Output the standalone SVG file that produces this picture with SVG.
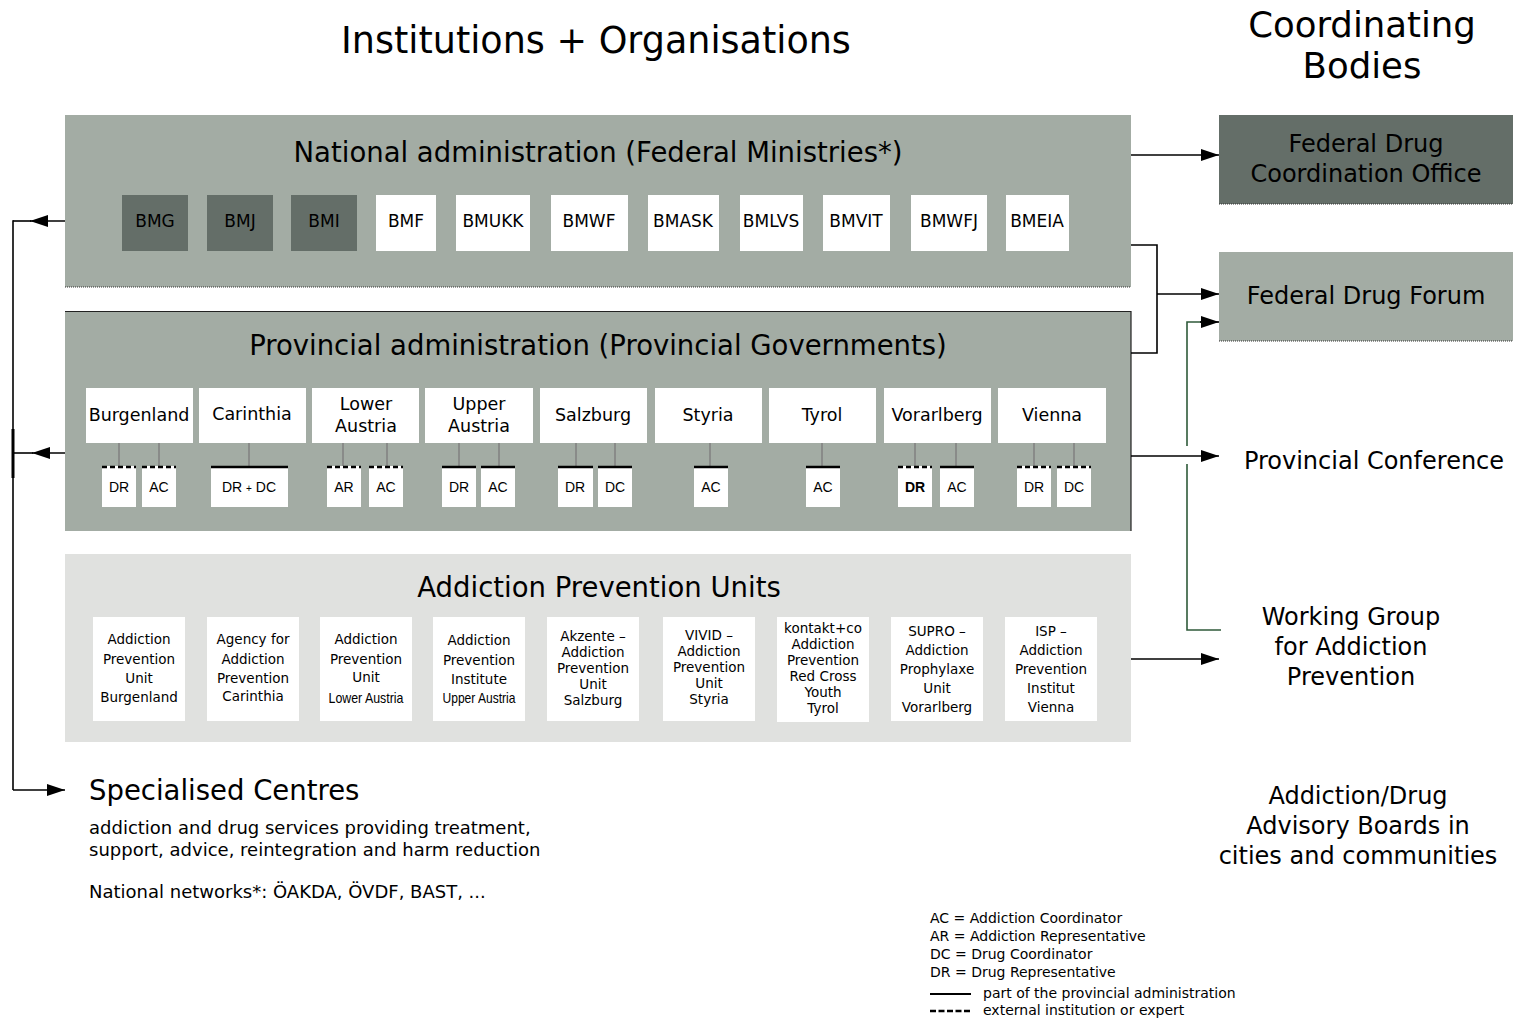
<svg xmlns="http://www.w3.org/2000/svg" width="1513" height="1020" viewBox="0 0 1513 1020">
<style>
.t{font-family:"DejaVu Sans","Liberation Sans",sans-serif;fill:#000}
.nw{font-family:"Liberation Sans Narrow","Liberation Sans",sans-serif;fill:#000}
.c{text-anchor:middle}
.h1{font-size:36.5px}
.h0{font-size:35.5px}
.h2{font-size:27.5px}
.h3{font-size:24px}
.min{font-size:17px}
.prov{font-size:17.5px}
.sm{font-size:14px}
.apu{font-size:13.5px}
.body{font-size:18px}
.dark{fill:#646e68}
.mid{fill:#a3aca4}
.light{fill:#e0e1df}
.wb{fill:#fff}
.ln{stroke:#000;stroke-width:1.6;fill:none}
.gl{stroke:#2f5a3a;stroke-width:1.6;fill:none}
.gray{stroke:#808080;stroke-width:1.5}
.solid{stroke:#000;stroke-width:2.5}
.dash{stroke:#000;stroke-width:2.5;stroke-dasharray:5 3}
.dot{stroke:#333;stroke-width:1;stroke-dasharray:1 1}
</style>
<defs>
<marker id="ah" markerUnits="userSpaceOnUse" markerWidth="18" markerHeight="12" viewBox="0 0 18 12" refX="18" refY="6" orient="auto"><path d="M0,0 L18,6 L0,12 z" fill="#000"/></marker>
</defs>

<text class="t c h1" x="596" y="53">Institutions + Organisations</text>
<text class="t c h0" x="1362" y="37"><tspan x="1362" y="37">Coordinating</tspan><tspan x="1362" y="78">Bodies</tspan></text>

<g id="national">
<rect class="mid" x="65" y="115" width="1066" height="172"/>
<line class="dot" x1="65" y1="287" x2="1131" y2="287"/>
<text class="t c h2" x="598" y="162">National administration (Federal Ministries*)</text>
<g id="ministries">
<rect class="dark" x="122" y="195" width="66" height="56"/><text class="t c min" x="155" y="227">BMG</text>
<rect class="dark" x="207" y="195" width="66" height="56"/><text class="t c min" x="240" y="227">BMJ</text>
<rect class="dark" x="291" y="195" width="66" height="56"/><text class="t c min" x="324" y="227">BMI</text>
<rect class="wb" x="376" y="195" width="60" height="56"/><text class="t c min" x="406" y="227">BMF</text>
<rect class="wb" x="456" y="195" width="74" height="56"/><text class="t c min" x="493" y="227">BMUKK</text>
<rect class="wb" x="551" y="195" width="77" height="56"/><text class="t c min" x="589" y="227">BMWF</text>
<rect class="wb" x="648" y="195" width="71" height="56"/><text class="t c min" x="683" y="227">BMASK</text>
<rect class="wb" x="740" y="195" width="63" height="56"/><text class="t c min" x="771" y="227">BMLVS</text>
<rect class="wb" x="823" y="195" width="67" height="56"/><text class="t c min" x="856" y="227">BMVIT</text>
<rect class="wb" x="911" y="195" width="76" height="56"/><text class="t c min" x="949" y="227">BMWFJ</text>
<rect class="wb" x="1006" y="195" width="63" height="56"/><text class="t c min" x="1037" y="227">BMEIA</text>
</g>
</g>

<g id="provincial">
<rect class="mid" x="65" y="311" width="1066" height="220"/>
<path d="M65,311.5 H1131 V531" stroke="#222" stroke-width="1.2" fill="none"/>
<text class="t c h2" x="598" y="355">Provincial administration (Provincial Governments)</text>
<g id="provinces">
<rect class="wb" x="86" y="388" width="107" height="55"/><text class="t c prov" x="139" y="421">Burgenland</text>
<rect class="wb" x="199" y="388" width="107" height="55"/><text class="t c prov" x="252" y="420">Carinthia</text>
<rect class="wb" x="312" y="388" width="107" height="55"/><text class="t c prov" x="366" y="410">Lower</text><text class="t c prov" x="366" y="432">Austria</text>
<rect class="wb" x="425" y="388" width="108" height="55"/><text class="t c prov" x="479" y="410">Upper</text><text class="t c prov" x="479" y="432">Austria</text>
<rect class="wb" x="540" y="388" width="107" height="55"/><text class="t c prov" x="593" y="421">Salzburg</text>
<rect class="wb" x="655" y="388" width="107" height="55"/><text class="t c prov" x="708" y="421">Styria</text>
<rect class="wb" x="769" y="388" width="107" height="55"/><text class="t c prov" x="822" y="421">Tyrol</text>
<rect class="wb" x="884" y="388" width="107" height="55"/><text class="t c prov" x="937" y="421">Vorarlberg</text>
<rect class="wb" x="998" y="388" width="108" height="55"/><text class="t c prov" x="1052" y="421">Vienna</text>
</g>
<g id="representatives">
<g class="gray">
<line x1="119" y1="443" x2="119" y2="466"/><line x1="159" y1="443" x2="159" y2="466"/>
<line x1="249" y1="443" x2="249" y2="466"/>
<line x1="343" y1="443" x2="343" y2="466"/><line x1="387" y1="443" x2="387" y2="466"/>
<line x1="459" y1="443" x2="459" y2="466"/><line x1="499" y1="443" x2="499" y2="466"/>
<line x1="576" y1="443" x2="576" y2="466"/><line x1="615" y1="443" x2="615" y2="466"/>
<line x1="710" y1="443" x2="710" y2="466"/>
<line x1="822" y1="443" x2="822" y2="466"/>
<line x1="915" y1="443" x2="915" y2="466"/><line x1="956" y1="443" x2="956" y2="466"/>
<line x1="1034" y1="443" x2="1034" y2="466"/><line x1="1074" y1="443" x2="1074" y2="466"/>
</g>
<rect class="wb" x="102" y="466" width="34" height="41"/><line class="dash" x1="102" y1="467" x2="136" y2="467"/><text class="nw c sm" x="119" y="492">DR</text>
<rect class="wb" x="142" y="466" width="34" height="41"/><line class="dash" x1="142" y1="467" x2="176" y2="467"/><text class="nw c sm" x="159" y="492">AC</text>
<rect class="wb" x="211" y="466" width="77" height="41"/><line class="solid" x1="211" y1="467" x2="288" y2="467"/><text class="nw c sm" x="249" y="492">DR <tspan font-size="10">+</tspan> DC</text>
<rect class="wb" x="327" y="466" width="34" height="41"/><line class="dash" x1="327" y1="467" x2="361" y2="467"/><text class="nw c sm" x="344" y="492">AR</text>
<rect class="wb" x="369" y="466" width="34" height="41"/><line class="dash" x1="369" y1="467" x2="403" y2="467"/><text class="nw c sm" x="386" y="492">AC</text>
<rect class="wb" x="442" y="466" width="34" height="41"/><line class="solid" x1="442" y1="467" x2="476" y2="467"/><text class="nw c sm" x="459" y="492">DR</text>
<rect class="wb" x="481" y="466" width="34" height="41"/><line class="solid" x1="481" y1="467" x2="515" y2="467"/><text class="nw c sm" x="498" y="492">AC</text>
<rect class="wb" x="558" y="466" width="35" height="41"/><line class="solid" x1="558" y1="467" x2="593" y2="467"/><text class="nw c sm" x="575" y="492">DR</text>
<rect class="wb" x="598" y="466" width="34" height="41"/><line class="solid" x1="598" y1="467" x2="632" y2="467"/><text class="nw c sm" x="615" y="492">DC</text>
<rect class="wb" x="694" y="466" width="34" height="41"/><line class="solid" x1="694" y1="467" x2="728" y2="467"/><text class="nw c sm" x="711" y="492">AC</text>
<rect class="wb" x="806" y="466" width="34" height="41"/><line class="solid" x1="806" y1="467" x2="840" y2="467"/><text class="nw c sm" x="823" y="492">AC</text>
<rect class="wb" x="898" y="466" width="34" height="41"/><line class="dash" x1="898" y1="467" x2="932" y2="467"/><text class="nw c sm" x="915" y="492" font-weight="bold">DR</text>
<rect class="wb" x="940" y="466" width="34" height="41"/><line class="solid" x1="940" y1="467" x2="974" y2="467"/><text class="nw c sm" x="957" y="492">AC</text>
<rect class="wb" x="1017" y="466" width="34" height="41"/><line class="dash" x1="1017" y1="467" x2="1051" y2="467"/><text class="nw c sm" x="1034" y="492">DR</text>
<rect class="wb" x="1057" y="466" width="34" height="41"/><line class="dash" x1="1057" y1="467" x2="1091" y2="467"/><text class="nw c sm" x="1074" y="492">DC</text>
</g>
</g>

<g id="apu">
<rect class="light" x="65" y="554" width="1066" height="188"/>
<text class="t c h2" x="599" y="597">Addiction Prevention Units</text>
<g id="apu-boxes">
<rect class="wb" x="93" y="617" width="92" height="104"/>
<text class="t c apu" x="139"><tspan x="139" y="644">Addiction</tspan><tspan x="139" y="664">Prevention</tspan><tspan x="139" y="683">Unit</tspan><tspan x="139" y="702">Burgenland</tspan></text>
<rect class="wb" x="207" y="617" width="92" height="104"/>
<text class="t c apu" x="253"><tspan x="253" y="644">Agency for</tspan><tspan x="253" y="664">Addiction</tspan><tspan x="253" y="683">Prevention</tspan><tspan x="253" y="701">Carinthia</tspan></text>
<rect class="wb" x="320" y="617" width="92" height="104"/>
<text class="t c apu" x="366"><tspan x="366" y="644">Addiction</tspan><tspan x="366" y="664">Prevention</tspan><tspan x="366" y="682">Unit</tspan></text>
<text class="nw c" font-size="14.5" x="366" y="703" textLength="75" lengthAdjust="spacingAndGlyphs">Lower Austria</text>
<rect class="wb" x="433" y="617" width="92" height="104"/>
<text class="t c apu" x="479"><tspan x="479" y="645">Addiction</tspan><tspan x="479" y="665">Prevention</tspan><tspan x="479" y="684">Institute</tspan></text>
<text class="nw c" font-size="14.5" x="479" y="703" textLength="73" lengthAdjust="spacingAndGlyphs">Upper Austria</text>
<rect class="wb" x="547" y="617" width="92" height="104"/>
<text class="t c apu" x="593"><tspan x="593" y="641">Akzente –</tspan><tspan x="593" y="657">Addiction</tspan><tspan x="593" y="673">Prevention</tspan><tspan x="593" y="689">Unit</tspan><tspan x="593" y="705">Salzburg</tspan></text>
<rect class="wb" x="663" y="617" width="92" height="104"/>
<text class="t c apu" x="709"><tspan x="709" y="640">VIVID –</tspan><tspan x="709" y="656">Addiction</tspan><tspan x="709" y="672">Prevention</tspan><tspan x="709" y="688">Unit</tspan><tspan x="709" y="704">Styria</tspan></text>
<rect class="wb" x="777" y="617" width="92" height="105"/>
<text class="t c apu" x="823"><tspan x="823" y="633">kontakt+co</tspan><tspan x="823" y="649">Addiction</tspan><tspan x="823" y="665">Prevention</tspan><tspan x="823" y="681">Red Cross</tspan><tspan x="823" y="697">Youth</tspan><tspan x="823" y="713">Tyrol</tspan></text>
<rect class="wb" x="891" y="617" width="92" height="104"/>
<text class="t c apu" x="937"><tspan x="937" y="636">SUPRO –</tspan><tspan x="937" y="655">Addiction</tspan><tspan x="937" y="674">Prophylaxe</tspan><tspan x="937" y="693">Unit</tspan><tspan x="937" y="712">Vorarlberg</tspan></text>
<rect class="wb" x="1005" y="617" width="92" height="104"/>
<text class="t c apu" x="1051"><tspan x="1051" y="636">ISP –</tspan><tspan x="1051" y="655">Addiction</tspan><tspan x="1051" y="674">Prevention</tspan><tspan x="1051" y="693">Institut</tspan><tspan x="1051" y="712">Vienna</tspan></text>
</g>
</g>

<g id="specialised">
<text class="t h2" x="89" y="800">Specialised Centres</text>
<text class="t body" x="89" y="834">addiction and drug services providing treatment,</text>
<text class="t body" x="89" y="856">support, advice, reintegration and harm reduction</text>
<text class="t body" x="89" y="898">National networks*: ÖAKDA, ÖVDF, BAST, ...</text>
</g>

<g id="fdco">
<rect class="dark" x="1219" y="115" width="294" height="89"/>
<line class="dot" x1="1219" y1="204" x2="1513" y2="204"/>
<text class="t c h3" x="1366" y="152">Federal Drug</text>
<text class="t c h3" x="1366" y="182">Coordination Office</text>
</g>
<g id="fdf">
<rect class="mid" x="1219" y="252" width="294" height="89"/>
<line class="dot" x1="1219" y1="341" x2="1513" y2="341"/>
<text class="t c h3" x="1366" y="304">Federal Drug Forum</text>
</g>
<g id="provconf"><text class="t c h3" x="1374" y="469">Provincial Conference</text></g>
<g id="wgap">
<text class="t c h3" x="1351" y="625">Working Group</text>
<text class="t c h3" x="1351" y="655">for Addiction</text>
<text class="t c h3" x="1351" y="685">Prevention</text>
</g>
<g id="advisory">
<text class="t c h3" x="1358" y="804">Addiction/Drug</text>
<text class="t c h3" x="1358" y="834">Advisory Boards in</text>
<text class="t c h3" x="1358" y="864">cities and communities</text>
</g>

<g id="connectors">
<line class="ln" x1="65" y1="221" x2="30" y2="221" marker-end="url(#ah)"/>
<line class="ln" x1="31" y1="221" x2="13" y2="221"/>
<line class="ln" x1="65" y1="453" x2="32" y2="453" marker-end="url(#ah)"/>
<line class="ln" x1="33" y1="453" x2="13" y2="453"/>
<line class="ln" x1="13" y1="220.2" x2="13" y2="790"/>
<line stroke="#000" stroke-width="3" x1="13" y1="429" x2="13" y2="478"/>
<line class="ln" x1="13" y1="790" x2="65" y2="790" marker-end="url(#ah)"/>
<line class="ln" x1="1131" y1="155" x2="1219" y2="155" marker-end="url(#ah)"/>
<path class="ln" d="M1131,245 H1157 V353 H1131"/>
<line class="ln" x1="1157" y1="294" x2="1219" y2="294" marker-end="url(#ah)"/>
<line class="ln" x1="1131" y1="456" x2="1219" y2="456" marker-end="url(#ah)"/>
<line class="ln" x1="1131" y1="659" x2="1219" y2="659" marker-end="url(#ah)"/>
<path class="gl" d="M1187,446 V322 H1203"/>
<line class="ln" x1="1200" y1="322" x2="1219" y2="322" marker-end="url(#ah)"/>
<path class="gl" d="M1187,464 V630 H1221"/>
</g>

<g id="legend">
<text class="t" font-size="14" x="930" y="923">AC = Addiction Coordinator</text>
<text class="t" font-size="14" x="930" y="941">AR = Addiction Representative</text>
<text class="t" font-size="14" x="930" y="959">DC = Drug Coordinator</text>
<text class="t" font-size="14" x="930" y="977">DR = Drug Representative</text>
<line stroke="#000" stroke-width="2" x1="930" y1="994" x2="971" y2="994"/>
<text class="t" font-size="14" x="983" y="998">part of the provincial administration</text>
<line stroke="#000" stroke-width="2.5" stroke-dasharray="6 2.5" x1="930" y1="1011" x2="972" y2="1011"/>
<text class="t" font-size="14" x="983" y="1015">external institution or expert</text>
</g>
</svg>
